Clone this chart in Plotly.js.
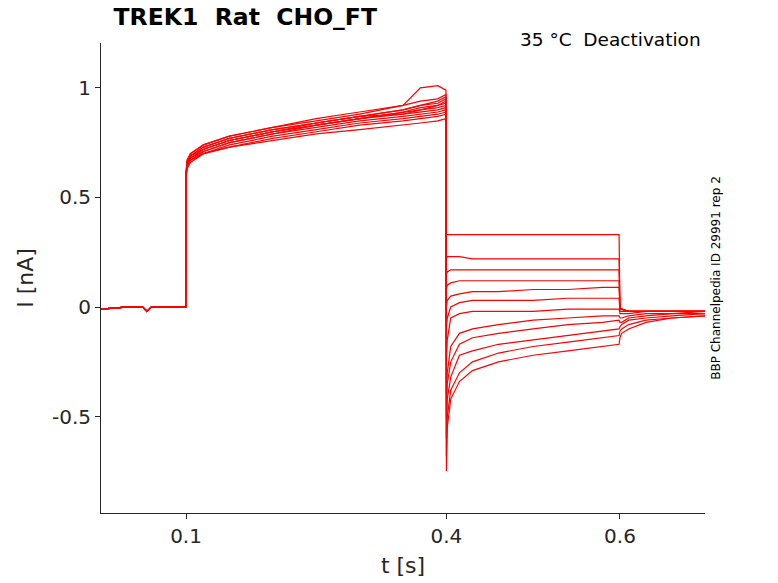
<!DOCTYPE html><html><head><script src="https://cdn.plot.ly/plotly-3.0.1.min.js"></script></head><body style="margin:0">
<div id="c" style="width:778px;height:583px"></div>
<script>
const tBase=[0.002,0.03,0.05,0.055,0.06,0.08,0.0995];
const baseVals=[[-0.01,0.0,0.0,-0.02,0.0,0.0,0.0]];
const tAct=[0.1,0.101,0.105,0.12,0.15,0.2,0.25,0.3,0.35,0.37,0.39,0.3995];
const act=[
[0.58,0.64,0.68,0.72,0.76,0.8,0.83,0.86,0.89,0.9,0.92,0.93],
[0.6,0.66,0.69,0.73,0.77,0.81,0.84,0.87,0.88,0.89,0.9,0.91],
[0.59,0.65,0.68,0.71,0.75,0.79,0.82,0.85,0.87,0.88,0.89,0.9],
[0.6,0.66,0.7,0.74,0.78,0.82,0.85,0.88,0.92,0.94,0.95,0.97],
[0.58,0.63,0.66,0.7,0.73,0.77,0.8,0.83,0.85,0.86,0.87,0.88],
[0.6,0.65,0.67,0.7,0.73,0.76,0.79,0.81,0.83,0.84,0.85,0.86],
[0.61,0.67,0.7,0.74,0.78,0.82,0.86,0.89,0.92,1.0,1.01,0.99],
[0.59,0.64,0.67,0.71,0.75,0.79,0.83,0.86,0.89,0.91,0.92,0.94],
[0.6,0.66,0.69,0.72,0.76,0.8,0.83,0.86,0.88,0.9,0.91,0.92],
[0.58,0.64,0.67,0.7,0.74,0.78,0.81,0.84,0.86,0.87,0.88,0.89],
[0.6,0.65,0.68,0.72,0.76,0.8,0.84,0.87,0.9,0.92,0.93,0.95],
[0.59,0.65,0.69,0.73,0.77,0.81,0.84,0.87,0.9,0.92,0.94,0.96]
];
const tDeact=[0.4,0.401,0.405,0.415,0.43,0.46,0.5,0.54,0.58,0.599];
const deact=[
[0.33,0.33,0.33,0.33,0.33,0.33,0.33,0.33,0.33,0.33],
[0.22,0.23,0.23,0.23,0.22,0.22,0.22,0.22,0.22,0.22],
[0.15,0.16,0.17,0.17,0.17,0.17,0.17,0.17,0.17,0.17],
[0.08,0.1,0.11,0.12,0.12,0.12,0.12,0.12,0.12,0.12],
[0.0,0.03,0.05,0.06,0.07,0.07,0.08,0.08,0.09,0.09],
[-0.1,-0.05,0.0,0.02,0.03,0.03,0.03,0.04,0.04,0.04],
[-0.25,-0.15,-0.05,-0.03,-0.02,-0.02,-0.02,-0.01,-0.01,-0.01],
[-0.4,-0.3,-0.18,-0.12,-0.1,-0.08,-0.06,-0.05,-0.04,-0.04],
[-0.5,-0.35,-0.25,-0.17,-0.14,-0.12,-0.1,-0.08,-0.07,-0.06],
[-0.6,-0.42,-0.32,-0.22,-0.2,-0.17,-0.15,-0.13,-0.11,-0.1],
[-0.68,-0.5,-0.38,-0.3,-0.25,-0.21,-0.18,-0.16,-0.14,-0.13],
[-0.75,-0.55,-0.42,-0.34,-0.29,-0.25,-0.22,-0.2,-0.18,-0.17]
];
const tTail=[0.6,0.602,0.61,0.63,0.66,0.698];
const tail=[
[-0.01,-0.01,-0.02,-0.02,-0.02,-0.02],
[-0.01,-0.01,-0.02,-0.02,-0.02,-0.02],
[-0.01,-0.01,-0.02,-0.02,-0.02,-0.02],
[-0.01,-0.01,-0.02,-0.02,-0.02,-0.02],
[-0.01,-0.01,-0.02,-0.02,-0.02,-0.02],
[-0.02,-0.02,-0.02,-0.02,-0.02,-0.02],
[-0.03,-0.03,-0.03,-0.02,-0.02,-0.02],
[-0.05,-0.05,-0.04,-0.03,-0.03,-0.02],
[-0.07,-0.07,-0.05,-0.04,-0.03,-0.03],
[-0.09,-0.08,-0.06,-0.05,-0.04,-0.03],
[-0.11,-0.1,-0.08,-0.06,-0.05,-0.04],
[-0.14,-0.12,-0.1,-0.07,-0.05,-0.04]
];
const traces=act.map((a,i)=>({x:[...tBase,...tAct,...tDeact,...tTail],y:[...baseVals[0],...a,...deact[i],...tail[i]],mode:'lines',line:{color:'#ff0000',width:1.2},hoverinfo:'skip'}));
const ax={showgrid:false,zeroline:false,linecolor:'#262626',ticks:'outside',ticklen:5,tickcolor:'#262626',mirror:false,tickfont:{size:20,color:'#262626'}};
Plotly.newPlot('c',traces,{
width:778,height:583,showlegend:false,paper_bgcolor:'#fff',plot_bgcolor:'#fff',
font:{family:'DejaVu Sans'},
margin:{l:101,r:73,t:43,b:70},
title:{text:'<b>TREK1  Rat  CHO_FT</b>',x:0.146,xanchor:'left',y:0.985,yanchor:'top',font:{size:23.5,color:'#000'}},
xaxis:{...ax,range:[0.002,0.698],tickvals:[0.1,0.4,0.6],ticktext:['0.1','0.4','0.6'],title:{text:'t [s]',font:{size:22,color:'#262626'},standoff:10}},
yaxis:{...ax,range:[-0.94,1.205],tickvals:[-0.5,0,0.5,1],ticktext:['-0.5','0','0.5','1'],title:{text:'I [nA]',font:{size:22,color:'#262626'},standoff:12}},
annotations:[
{text:'35 °C  Deactivation',xref:'paper',yref:'paper',x:0.997,y:1.035,xanchor:'right',yanchor:'top',showarrow:false,font:{size:18.5,color:'#000'}},
{text:'BBP Channelpedia ID 29991 rep 2',xref:'paper',yref:'paper',x:1.003,y:0.5,xanchor:'left',yanchor:'middle',textangle:-90,showarrow:false,font:{size:12,color:'#000'}}
]
},{staticPlot:true});
</script></body></html>
